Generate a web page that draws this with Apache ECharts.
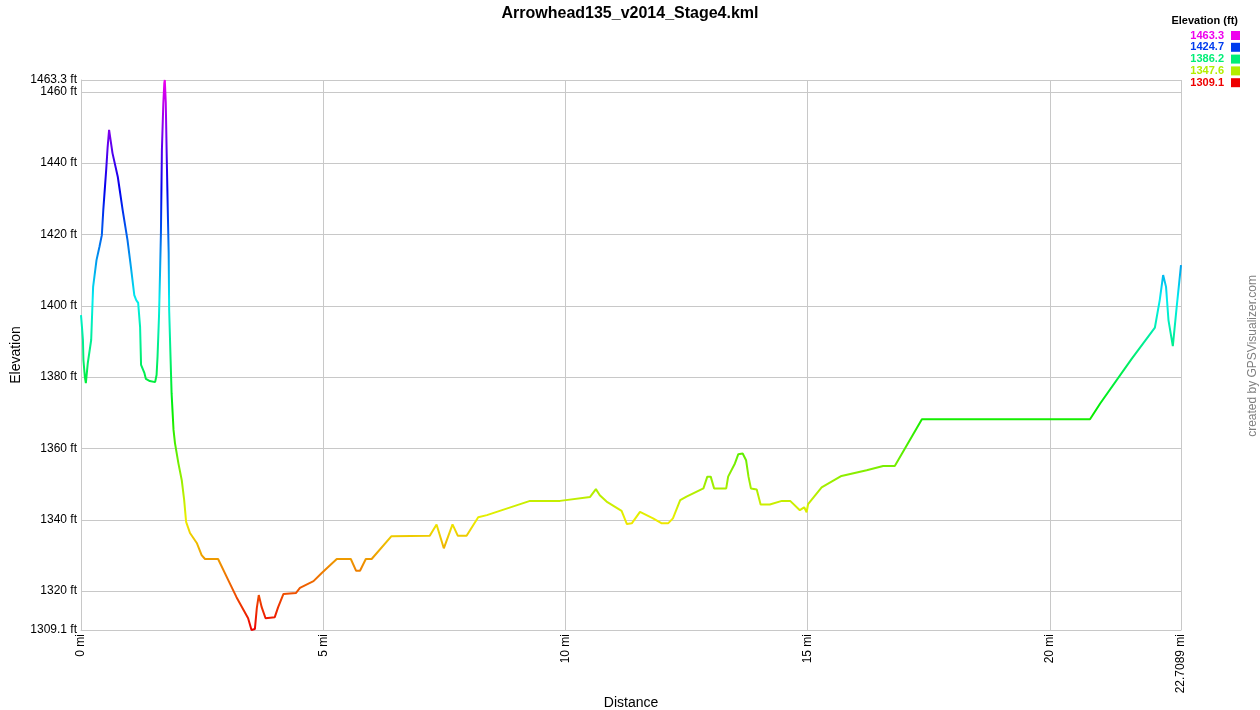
<!DOCTYPE html>
<html>
<head>
<meta charset="utf-8">
<title>Arrowhead135_v2014_Stage4.kml</title>
<script src="https://cdn.jsdelivr.net/npm/echarts@6/dist/echarts.min.js"></script>
<style>
  html, body { margin: 0; padding: 0; background: #fff; }
  #main { width: 1260px; height: 710px; }
</style>
</head>
<body>
<div id="main"></div>
<script>
// distance along the track (mi)
const distances = [
  0, 0.02, 0.04, 0.05, 0.08, 0.10, 0.14, 0.21, 0.25, 0.32,
  0.38, 0.43, 0.46, 0.52, 0.55, 0.58, 0.65, 0.76, 0.86, 0.96,
  1.03, 1.10, 1.14, 1.18, 1.22, 1.24, 1.31, 1.34, 1.42, 1.53,
  1.56, 1.58, 1.61, 1.63, 1.65, 1.67, 1.70, 1.72, 1.73, 1.75,
  1.77, 1.79, 1.81, 1.82, 1.85, 1.87, 1.91, 1.94, 2.01, 2.08,
  2.13, 2.17, 2.25, 2.39, 2.49, 2.56, 2.83, 3.04, 3.21, 3.45,
  3.52, 3.59, 3.63, 3.67, 3.73, 3.81, 4.00, 4.07, 4.18, 4.44,
  4.52, 4.80, 4.97, 5.28, 5.57, 5.68, 5.76, 5.88, 6.00, 6.41,
  7.20, 7.34, 7.49, 7.67, 7.78, 7.96, 8.20, 8.38, 9.27, 9.89,
  10.51, 10.63, 10.71, 10.85, 11.16, 11.27, 11.37, 11.54, 11.81, 11.99,
  12.12, 12.22, 12.37, 12.50, 12.85, 12.93, 13.00, 13.07, 13.32, 13.36,
  13.50, 13.57, 13.66, 13.73, 13.78, 13.83, 13.95, 14.03, 14.22, 14.47,
  14.64, 14.84, 14.93, 14.98, 15.01, 15.29, 15.70, 16.22, 16.56, 16.80,
  17.36, 20.83, 21.04, 21.69, 22.17, 22.27, 22.34, 22.40, 22.45, 22.54,
  22.62, 22.7089
];
// elevation (ft)
const elevations = [
  1397.4, 1394.0, 1390.4, 1384.8, 1380.0, 1378.3, 1383.9, 1390.4, 1405.3, 1412.8,
  1416.5, 1419.8, 1426.8, 1438.1, 1444.5, 1449.3, 1442.8, 1436.1, 1426.8, 1418.4,
  1410.9, 1403.0, 1401.6, 1400.8, 1394.0, 1383.4, 1381.1, 1379.5, 1378.9, 1378.6,
  1380.6, 1385.7, 1396.9, 1408.1, 1420.4, 1443.7, 1456.9, 1462.5, 1463.3, 1456.9,
  1441.8, 1427.8, 1414.8, 1398.8, 1384.8, 1375.5, 1365.2, 1361.5, 1355.9, 1351.1,
  1345.5, 1339.4, 1336.3, 1333.5, 1330.1, 1329.0, 1329.0, 1323.1, 1318.3, 1312.4,
  1309.1, 1309.4, 1315.3, 1318.9, 1315.5, 1312.4, 1312.7, 1315.5, 1319.2, 1319.5,
  1320.9, 1322.8, 1325.1, 1329.0, 1329.0, 1325.7, 1325.7, 1329.0, 1329.0, 1335.4,
  1335.5, 1338.7, 1332.0, 1338.7, 1335.5, 1335.5, 1340.7, 1341.3, 1345.3, 1345.3,
  1346.4, 1348.6, 1346.9, 1345.1, 1342.5, 1338.8, 1339.0, 1342.2, 1340.4, 1339.0,
  1339.0, 1340.4, 1345.5, 1346.5, 1348.8, 1352.1, 1352.1, 1348.8, 1348.8, 1352.1,
  1355.8, 1358.4, 1358.6, 1356.7, 1352.1, 1348.8, 1348.5, 1344.3, 1344.3, 1345.3,
  1345.3, 1342.7, 1343.5, 1342.1, 1344.4, 1349.1, 1352.3, 1353.9, 1355.1, 1355.1,
  1368.2, 1368.2, 1372.6, 1385.1, 1393.9, 1401.6, 1408.6, 1405.3, 1396.0, 1388.7,
  1399.7, 1411.4
];
// colour key labels (top right)
const legendLabels = ['1463.3', '1424.7', '1386.2', '1347.6', '1309.1'];

const minEle = 1309.1;
const maxEle = 1463.3;
const maxDist = 22.7089;

// hue 0 (red, lowest) .. 300 (magenta, highest)
function hueColor(h) {
  const v = 238;
  const s = Math.floor(h / 60) % 6;
  const f = h / 60 - Math.floor(h / 60);
  const q = Math.round(v * (1 - f));
  const t = Math.round(v * f);
  let rgb;
  if (h >= 300) rgb = [v, 0, v];
  else if (s === 0) rgb = [v, t, 0];
  else if (s === 1) rgb = [q, v, 0];
  else if (s === 2) rgb = [0, v, t];
  else if (s === 3) rgb = [0, q, v];
  else rgb = [t, 0, v];
  return '#' + rgb.map((c) => c.toString(16).padStart(2, '0')).join('');
}
function eleColor(e) {
  return hueColor(((e - minEle) / (maxEle - minEle)) * 300);
}

const rampColors = [];
for (let h = 0; h <= 300; h += 30) rampColors.push(hueColor(h));

const seriesData = distances.map((d, i) => [d, elevations[i]]);

const font = 'Liberation Sans, Arial, sans-serif';
const gridColor = '#c8c8c8';

// key drawn as graphic texts + squares
const keyItems = [
  {
    type: 'text', right: 22, top: 15,
    style: { text: 'Elevation (ft)', font: 'bold 11px ' + font, fill: '#000' },
  },
];
legendLabels.forEach((lab, i) => {
  const c = eleColor(parseFloat(lab));
  keyItems.push({
    type: 'text', right: 36, top: 30 + i * 11.8,
    style: { text: lab, font: 'bold 11px ' + font, fill: c },
  });
  keyItems.push({
    type: 'rect', right: 20, top: 31 + i * 11.8,
    shape: { width: 9, height: 9 },
    style: { fill: c },
  });
});
keyItems.push({
  type: 'text', left: 1247, top: 275, rotation: Math.PI / 2,
  style: { text: 'created by GPSVisualizer.com', font: '12px ' + font, fill: '#808080' },
});

const chart = echarts.init(document.getElementById('main'));
const option = {
  animation: false,
  backgroundColor: '#fff',
  title: {
    text: 'Arrowhead135_v2014_Stage4.kml',
    left: 'center',
    top: 1,
    textStyle: { fontFamily: font, fontSize: 16, fontWeight: 'bold', color: '#000' },
  },
  grid: { left: 81, right: 79, top: 80, bottom: 80, containLabel: false, outerBoundsMode: 'none' },
  xAxis: {
    type: 'value',
    min: 0,
    max: maxDist,
    splitNumber: 5,
    name: 'Distance',
    nameLocation: 'middle',
    nameGap: 66,
    nameMoveOverlap: false,
    nameTextStyle: { fontFamily: font, fontSize: 14, color: '#000' },
    axisLine: { show: true, lineStyle: { color: gridColor } },
    axisTick: { show: false },
    axisLabel: {
      rotate: 90,
      margin: 4,
      fontFamily: font,
      fontSize: 12,
      color: '#000',
      showMinLabel: true,
      showMaxLabel: true,
      formatter: (v) => v + ' mi',
    },
    splitLine: { show: true, lineStyle: { color: gridColor, width: 1 } },
  },
  yAxis: [
    {
      type: 'value',
      min: minEle,
      max: maxEle,
      splitNumber: 8,
      name: 'Elevation',
      nameLocation: 'middle',
      nameGap: 58,
      nameMoveOverlap: false,
      nameTextStyle: { fontFamily: font, fontSize: 14, color: '#000' },
      axisLine: { show: true, lineStyle: { color: gridColor } },
      axisTick: { show: false },
      axisLabel: {
        margin: 4,
        fontFamily: font,
        fontSize: 12,
        color: '#000',
        showMinLabel: true,
        showMaxLabel: false,
        formatter: (v) => v + ' ft',
      },
      splitLine: { show: true, lineStyle: { color: gridColor, width: 1 } },
    },
    {
      // only carries the top (max) label, which the first axis drops on overlap
      type: 'value',
      position: 'left',
      min: minEle,
      max: maxEle,
      splitNumber: 8,
      axisLine: { show: false },
      axisTick: { show: false },
      splitLine: { show: false },
      axisLabel: {
        margin: 4,
        fontFamily: font,
        fontSize: 12,
        color: '#000',
        showMinLabel: false,
        showMaxLabel: true,
        formatter: (v) => (v === maxEle ? v + ' ft' : ''),
      },
    },
  ],
  visualMap: {
    type: 'continuous',
    show: false,
    dimension: 1,
    seriesIndex: 0,
    min: minEle,
    max: maxEle,
    inRange: { color: rampColors },
  },
  graphic: keyItems,
  series: [
    {
      type: 'line',
      data: seriesData,
      showSymbol: false,
      lineStyle: { width: 2 },
    },
  ],
};
chart.setOption(option);
</script>
</body>
</html>
